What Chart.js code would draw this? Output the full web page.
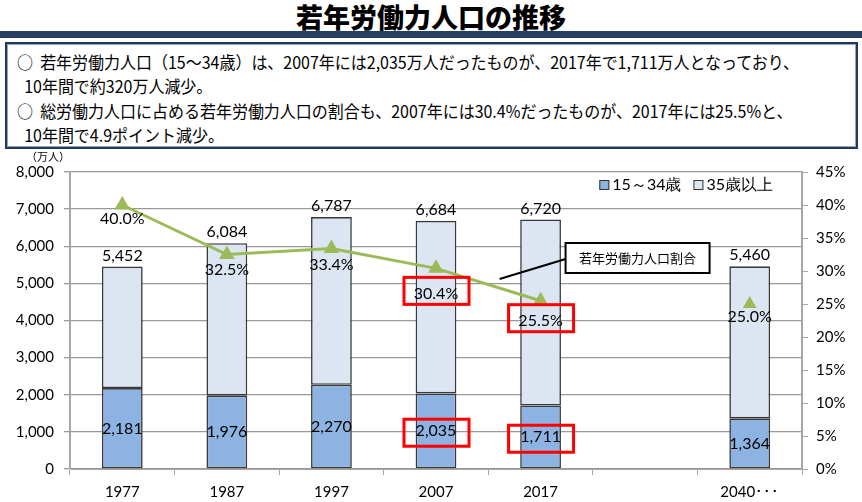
<!DOCTYPE html>
<html>
<head>
<meta charset="utf-8">
<script src="https://cdn.jsdelivr.net/npm/chart.js@4.4.0/dist/chart.umd.min.js"></script>
<style>
  body { margin: 0; width: 862px; height: 502px; background: #fff; overflow: hidden; position: relative; font-family: "Noto Sans CJK JP", sans-serif; }
  #title { position: absolute; top: 0; left: 0; width: 862px; text-align: center; font-size: 27px; font-weight: 900; line-height: 34px; color: #000; }
  #bar { position: absolute; top: 31px; left: 0; width: 862px; height: 7px; background: #243f60; }
  #note { position: absolute; top: 42px; left: 5px; width: 849px; height: 103px; border: 2px solid #1f3864; box-shadow: inset 0 0 0 1px #9aa6b6; box-sizing: content-box; }
  #note p { margin: 0; position: absolute; left: 10px; font-size: 17px; line-height: 24px; white-space: nowrap; color: #000; transform: scaleX(0.94); transform-origin: left center; }
  #chartBox { position: absolute; top: 150px; left: 0; }
</style>
</head>
<body>
<div id="title">若年労働力人口の推移</div>
<div id="bar"></div>
<div id="note">
  <p style="top:6px">○&nbsp;&nbsp;若年労働力人口（15～34歳）は、2007年には2,035万人だったものが、2017年で1,711万人となっており、</p>
  <p style="top:30px">&nbsp;&nbsp;10年間で約320万人減少。</p>
  <p style="top:55px">○&nbsp;&nbsp;総労働力人口に占める若年労働力人口の割合も、2007年には30.4%だったものが、2017年には25.5%と、</p>
  <p style="top:79px">&nbsp;&nbsp;10年間で4.9ポイント減少。</p>
</div>
<div id="chartBox"><canvas id="myChart" width="862" height="352"></canvas></div>
<script>
    var years = ['1977', '1987', '1997', '2007', '2017', '', '2040･･･'];
    var young = [2181, 1976, 2270, 2035, 1711, null, 1364];   // 15～34歳
    var older = [3271, 4108, 4517, 4649, 5009, null, 4096];   // 35歳以上
    var ratio = [40.0, 32.5, 33.4, 30.4, 25.5, null, 25.0];   // 若年労働力人口割合 (%)
    var highlight = [3, 4];

    var numFont = 'Lato, "Noto Sans", sans-serif';
    var blue = '#8db3e2';
    var lightBlue = '#dce6f2';

    // ラベル描画 (datalabels は使えないので自前で)
    var labelPlugin = {
        id: 'labels',
        afterDatasetsDraw: function (chart) {
            var ctx = chart.ctx;
            var x = chart.scales.x, y = chart.scales.y, y1 = chart.scales.y1;
            var area = chart.chartArea;
            var pctOffset = [14, 15, 16, 25, 20, 0, 13];

            ctx.save();
            ctx.fillStyle = '#000';
            ctx.textAlign = 'center';
            ctx.textBaseline = 'middle';
            ctx.font = '16px ' + numFont;

            var boxes = [];
            years.forEach(function (yr, i) {
                if (young[i] == null) return;
                var cx = x.getPixelForValue(i);
                var total = young[i] + older[i];
                ctx.fillText(total.toLocaleString('en-US'), cx, y.getPixelForValue(total) - 11);
                var by = (y.getPixelForValue(0) + y.getPixelForValue(young[i])) / 2;
                ctx.fillText(young[i].toLocaleString('en-US'), cx, by);
                if (highlight.indexOf(i) >= 0) boxes.push([cx, by + 1]);
            });

            ratio.forEach(function (v, i) {
                if (v == null) return;
                var cx = x.getPixelForValue(i);
                var py = y1.getPixelForValue(v) + pctOffset[i];
                ctx.fillText(v.toFixed(1) + '%', cx, py);
                if (highlight.indexOf(i) >= 0) boxes.push([cx, py - 3]);
            });

            // 赤枠
            ctx.strokeStyle = '#ff0000';
            ctx.lineWidth = 3;
            boxes.forEach(function (b) {
                ctx.strokeRect(b[0] - 32, b[1] - 13, 65, 27);
            });

            // 吹き出し
            var xa = x.getPixelForValue(4);
            var bl = xa + 25, bt = area.top + 71;
            ctx.strokeStyle = '#000';
            ctx.lineWidth = 2;
            ctx.beginPath();
            ctx.moveTo(bl, bt + 16);
            ctx.lineTo(xa - 41, bt + 36);
            ctx.stroke();
            ctx.fillStyle = '#fff';
            ctx.fillRect(bl, bt, 144, 30);
            ctx.strokeRect(bl, bt, 144, 30);
            ctx.fillStyle = '#000';
            ctx.font = '13px "Noto Sans CJK JP"';
            ctx.fillText('若年労働力人口割合', bl + 72, bt + 15);

            // 凡例
            ctx.font = '16px ' + numFont;
            ctx.textAlign = 'left';
            ctx.lineWidth = 1;
            var ly = area.top + 13;
            var items = [['15～34歳', blue], ['35歳以上', lightBlue]];
            var lx = area.right - 29;
            for (var k = items.length - 1; k >= 0; k--) {
                var w = ctx.measureText(items[k][0]).width;
                lx -= w;
                ctx.fillStyle = '#000';
                ctx.fillText(items[k][0], lx, ly);
                lx -= 13;
                ctx.fillStyle = items[k][1];
                ctx.fillRect(lx, ly - 5, 10, 10);
                ctx.strokeStyle = '#333';
                ctx.strokeRect(lx + 0.5, ly - 4.5, 9, 9);
                lx -= 12;
            }

            // 単位
            ctx.textAlign = 'center';
            ctx.fillStyle = '#000';
            ctx.font = '11px "Noto Sans CJK JP"';
            ctx.fillText('（万人）', 48, area.top - 15);
            ctx.restore();
        }
    };

    var ctx = document.getElementById('myChart');

    var chart = new Chart(ctx, {
        type: 'bar',
        data: {
            labels: years,
            datasets: [{
                type: 'line',
                label: '若年労働力人口割合',
                data: ratio,
                yAxisID: 'y1',
                borderColor: '#9bbb59',
                backgroundColor: '#9bbb59',
                borderWidth: 3,
                pointStyle: 'triangle',
                pointRadius: [6, 6, 6, 6, 6, 0, 5],
                pointBackgroundColor: '#9bbb59',
                pointBorderColor: '#9bbb59',
                spanGaps: false,
                tension: 0,
                order: 0
            }, {
                label: '15～34歳',
                data: young,
                backgroundColor: blue,
                borderColor: '#3a3a3a',
                borderWidth: 1.6,
                borderSkipped: false,
                yAxisID: 'y',
                order: 1
            }, {
                label: '35歳以上',
                data: older,
                backgroundColor: lightBlue,
                borderColor: '#3a3a3a',
                borderWidth: 1.6,
                borderSkipped: false,
                yAxisID: 'y',
                order: 1
            }]
        },
        options: {
            responsive: false,
            animation: false,
            devicePixelRatio: 1,
            layout: { padding: { top: 22, left: 0, right: 0, bottom: 0 } },
            categoryPercentage: 1,
            barPercentage: 0.39,
            plugins: {
                legend: { display: false },
                tooltip: { enabled: false }
            },
            scales: {
                x: {
                    stacked: true,
                    grid: { offset: true, drawOnChartArea: false, drawTicks: true, tickLength: 6, color: '#a6a6a6' },
                    border: { color: '#a6a6a6', width: 1 },
                    ticks: { color: '#000', font: { size: 15, family: numFont }, padding: 8 },
                    afterFit: function (s) { s.height = 33; }
                },
                y: {
                    stacked: true,
                    min: 0,
                    max: 8000,
                    ticks: {
                        stepSize: 1000,
                        color: '#000',
                        padding: 10,
                        font: { size: 15, family: numFont },
                        callback: function (v) { return v.toLocaleString('en-US'); }
                    },
                    grid: { color: '#999999', lineWidth: 1.3, tickLength: 6 },
                    border: { color: '#a6a6a6', width: 2 },
                    afterFit: function (s) { s.width = 70; }
                },
                y1: {
                    position: 'right',
                    min: 0,
                    max: 45,
                    ticks: {
                        stepSize: 5,
                        color: '#000',
                        padding: 8,
                        font: { size: 15, family: numFont },
                        callback: function (v) { return v + '%'; }
                    },
                    grid: { drawOnChartArea: false, tickLength: 6, color: '#a6a6a6' },
                    border: { color: '#a6a6a6', width: 2 },
                    afterFit: function (s) { s.width = 60; }
                }
            }
        },
        plugins: [labelPlugin]
    });
</script>
</body>
</html>
